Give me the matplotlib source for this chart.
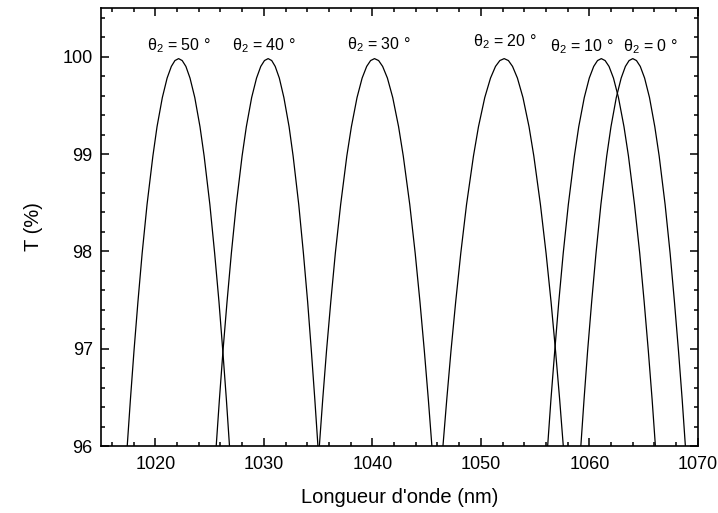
import matplotlib.pyplot as plt
from matplotlib.ticker import MultipleLocator

plt.rcParams['font.family'] = ['Liberation Sans', 'DejaVu Sans']
plt.rcParams['mathtext.default'] = 'regular'

# transmission levels (%), from bottom to peak and back
t_levels = [95.88, 96.48, 96.98, 97.48, 97.98, 98.48, 98.98, 99.28, 99.58, 99.78, 99.90, 99.96, 99.98,
            99.96, 99.90, 99.78, 99.58, 99.28, 98.98, 98.48, 97.98, 97.48, 96.98, 96.48, 95.88]

# wavelengths (nm) read at those levels, one list per incidence angle
wl_50 = [1017.34, 1017.71, 1018.04, 1018.40, 1018.79, 1019.24, 1019.78, 1020.16, 1020.65, 1021.09, 1021.48, 1021.81, 1022.15,
         1022.48, 1022.82, 1023.20, 1023.64, 1024.12, 1024.50, 1025.03, 1025.47, 1025.87, 1026.22, 1026.55, 1026.91]
wl_40 = [1025.54, 1025.91, 1026.24, 1026.61, 1027.01, 1027.46, 1028.00, 1028.39, 1028.88, 1029.33, 1029.72, 1030.06, 1030.40,
         1030.73, 1031.05, 1031.43, 1031.85, 1032.33, 1032.70, 1033.22, 1033.65, 1034.04, 1034.38, 1034.70, 1035.06]
wl_30 = [1035.04, 1035.43, 1035.78, 1036.17, 1036.59, 1037.08, 1037.65, 1038.07, 1038.59, 1039.06, 1039.48, 1039.84, 1040.20,
         1040.58, 1040.95, 1041.39, 1041.88, 1042.42, 1042.85, 1043.45, 1043.95, 1044.39, 1044.79, 1045.16, 1045.57]
wl_20 = [1046.42, 1046.86, 1047.25, 1047.68, 1048.15, 1048.68, 1049.32, 1049.78, 1050.36, 1050.89, 1051.35, 1051.75, 1052.15,
         1052.54, 1052.92, 1053.37, 1053.88, 1054.44, 1054.88, 1055.49, 1056.01, 1056.47, 1056.88, 1057.26, 1057.68]
wl_10 = [1056.08, 1056.46, 1056.81, 1057.18, 1057.59, 1058.06, 1058.62, 1059.02, 1059.53, 1059.99, 1060.40, 1060.75, 1061.10,
         1061.45, 1061.81, 1062.22, 1062.68, 1063.19, 1063.60, 1064.16, 1064.64, 1065.05, 1065.43, 1065.78, 1066.16]
wl_0 = [1059.14, 1059.51, 1059.84, 1060.21, 1060.61, 1061.06, 1061.60, 1061.99, 1062.48, 1062.93, 1063.32, 1063.66, 1064.00,
        1064.34, 1064.69, 1065.09, 1065.54, 1066.03, 1066.43, 1066.98, 1067.44, 1067.84, 1068.21, 1068.55, 1068.92]

angles = [50, 40, 30, 20, 10, 0]
curves = [wl_50, wl_40, wl_30, wl_20, wl_10, wl_0]
# label anchor points (wavelength, T)
label_x = [1022.2, 1030.0, 1040.6, 1052.2, 1059.3, 1065.6]
label_y = [100.07, 100.07, 100.08, 100.11, 100.06, 100.06]

fig = plt.figure(figsize=(7.18, 5.13), dpi=100)
ax = fig.add_axes([0.1407, 0.1306, 0.8313, 0.8538])

for wl in curves:
    ax.plot(wl, t_levels, color='black', lw=0.9)

for ang, lx, ly in zip(angles, label_x, label_y):
    ax.text(lx, ly, r'$\theta_2$ = %d °' % ang, ha='center', va='baseline', fontsize=11.5)

ax.set_xlim(1015, 1070)
ax.set_ylim(96, 100.5)
ax.xaxis.set_major_locator(MultipleLocator(10))
ax.xaxis.set_minor_locator(MultipleLocator(2))
ax.yaxis.set_major_locator(MultipleLocator(1))
ax.yaxis.set_minor_locator(MultipleLocator(0.2))
ax.tick_params(which='both', direction='in', top=True, right=True, labelsize=13, width=1.1)
ax.tick_params(which='major', length=5.5)
ax.tick_params(which='minor', length=3)
ax.tick_params(axis='x', pad=7)
ax.tick_params(axis='y', pad=6)
for sp in ax.spines.values():
    sp.set_linewidth(1.2)

ax.set_xlabel("Longueur d'onde (nm)", fontsize=14.5, labelpad=11)
ax.set_ylabel('T (%)', fontsize=14.5, labelpad=14)

fig.savefig('out.png', dpi=100)
